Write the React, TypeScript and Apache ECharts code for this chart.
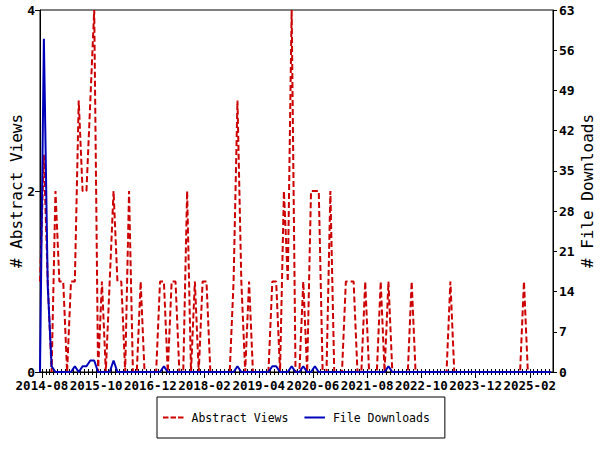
import React, { useEffect, useRef } from "react";
import * as echarts from "echarts";

// First data month is 2014-07; x coordinate = months after 2014-08-01, points sit mid-month.
const BASE_YEAR = 2014;
const BASE_MONTH0 = 7; // August (0-based) = coordinate 0

const abstractViews = [
  1, 2.4, 1, 0, 2, 1, 1, 0, 1, 1, 3, 2, 2, 3, 4, 0, 1, 0, 1, 2,
  1, 1, 0, 2, 0, 0, 1, 0, 0, 0, 0, 1, 1, 0, 1, 1, 0, 0, 2, 0,
  1, 0, 1, 1, 0, 0, 0, 0, 0, 0, 1, 3, 1, 0, 1, 0, 0, 0, 0, 0,
  1, 1, 0, 2, 1, 4, 0, 0, 1, 0, 2, 2, 2, 0, 0, 2, 0, 0, 0, 1,
  1, 1, 0, 0, 1, 0, 0, 0, 1, 0, 1, 0, 0, 0, 0, 0, 1, 0, 0, 0,
  0, 0, 0, 0, 0, 0, 1, 0, 0, 0, 0, 0, 0, 0, 0, 0, 0, 0, 0, 0,
  0, 0, 0, 0, 0, 1, 0, 0, 0, 0, 0, 0, 0,
];

const fileDownloads = [
  0, 58, 15, 1, 0, 0, 0, 0, 0, 1, 0, 1, 1, 2, 2, 0, 0, 0, 0, 2,
  0, 0, 0, 0, 0, 0, 0, 0, 0, 0, 0, 0, 1, 0, 0, 0, 0, 0, 0, 0,
  0, 0, 0, 0, 0, 0, 0, 0, 0, 0, 0, 1, 0, 0, 0, 0, 0, 0, 0, 0,
  1, 1, 0, 0, 0, 1, 0, 0, 1, 0, 0, 1, 0, 0, 0, 0, 0, 0, 0, 0,
  0, 0, 0, 0, 0, 0, 0, 0, 0, 0, 1, 0, 0, 0, 0, 0, 0, 0, 0, 0,
  0, 0, 0, 0, 0, 0, 0, 0, 0, 0, 0, 0, 0, 0, 0, 0, 0, 0, 0, 0,
  0, 0, 0, 0, 0, 0, 0, 0, 0, 0, 0, 0, 0,
];

const majorTickMonths = [0, 14, 28, 42, 56, 70, 84, 98, 112, 126];
const minorTickMonths = Array.from({ length: 133 }, (_, i) => i - 1).filter((v) => v >= 0);
const X_MIN = -0.5;
const X_MAX = 132;

const FONT = "'DejaVu Sans Mono', 'Liberation Mono', monospace";
const RED = "#cc0000";
const BLUE = "#0000bb";

const RED_ICON = "path://M0,0h5.5v2h-5.5z M7.5,0h5.5v2h-5.5z M15,0h5.5v2h-5.5z";
const BLUE_ICON = "path://M0,0h20.5v2h-20.5z";

function monthLabel(v: number): string {
  const total = BASE_YEAR * 12 + BASE_MONTH0 + Math.round(v);
  const y = Math.floor(total / 12);
  const m = (total % 12) + 1;
  return `${y}-${m < 10 ? "0" + m : m}`;
}

export default function App() {
  const ref = useRef<HTMLDivElement>(null);
  useEffect(() => {
    if (!ref.current) return;
    const chart = echarts.init(ref.current, undefined, { renderer: "svg" });
    const baseX = {
      type: "value" as const,
      min: X_MIN,
      max: X_MAX,
      position: "bottom" as const,
      splitLine: { show: false },
    };
    chart.setOption({
      animation: false,
      backgroundColor: "#ffffff",
      textStyle: { fontFamily: FONT },
      grid: {
        left: 40,
        right: 47,
        top: 10,
        bottom: 78,
        show: true,
        borderColor: "#000",
        borderWidth: 1,
        backgroundColor: "transparent",
        containLabel: false,
        outerBoundsMode: "none",
      },
      legend: {
        left: 157,
        top: 397,
        orient: "horizontal",
        itemWidth: 20.5,
        itemHeight: 2,
        itemGap: 16,
        padding: [13, 15, 13, 6],
        borderColor: "#000",
        borderWidth: 1,
        borderRadius: 0,
        textStyle: {
          fontFamily: FONT,
          fontSize: 11.5,
          color: "#000",
          padding: [0, 0, 0, 3],
          lineHeight: 15,
        },
        data: [
          { name: "Abstract Views", icon: RED_ICON, itemStyle: { color: RED } },
          { name: "File Downloads", icon: BLUE_ICON, itemStyle: { color: BLUE } },
        ],
      },
      xAxis: [
        {
          ...baseX,
          axisLine: { show: true, onZero: false, lineStyle: { color: "#000", width: 1 } },
          axisTick: {
            show: true,
            customValues: majorTickMonths,
            length: 6,
            lineStyle: { color: "#000" },
          },
          axisLabel: {
            customValues: majorTickMonths,
            formatter: (v: number) => monthLabel(v),
            fontFamily: FONT,
            fontWeight: "bold",
            fontSize: 12.5,
            color: "#000",
            margin: 7,
            hideOverlap: false,
            showMinLabel: true,
            showMaxLabel: true,
          },
        },
        {
          ...baseX,
          axisLine: { show: false, onZero: false },
          axisTick: {
            show: true,
            customValues: minorTickMonths,
            length: 3,
            lineStyle: { color: "#000" },
          },
          axisLabel: { show: false },
        },
        {
          ...baseX,
          axisLine: { show: false, onZero: false },
          axisTick: {
            show: true,
            inside: true,
            customValues: minorTickMonths,
            length: 3,
            lineStyle: { color: "#000" },
          },
          axisLabel: { show: false },
        },
      ],
      yAxis: [
        {
          type: "value",
          min: 0,
          max: 4,
          interval: 2,
          position: "left",
          name: "# Abstract Views",
          nameLocation: "middle",
          nameGap: 16,
          nameMoveOverlap: false,
          nameTextStyle: { fontFamily: FONT, fontSize: 16, color: "#000" },
          axisLine: { show: true, onZero: false, lineStyle: { color: "#000" } },
          axisTick: { show: true, length: 5, lineStyle: { color: "#000" } },
          axisLabel: {
            fontFamily: FONT,
            fontWeight: "bold",
            fontSize: 13,
            color: "#000",
            margin: 5,
          },
          splitLine: { show: false },
        },
        {
          type: "value",
          min: 0,
          max: 63,
          interval: 7,
          position: "right",
          name: "# File Downloads",
          nameLocation: "middle",
          nameGap: 26,
          nameMoveOverlap: false,
          nameTextStyle: { fontFamily: FONT, fontSize: 16, color: "#000" },
          axisLine: { show: true, onZero: false, lineStyle: { color: "#000" } },
          axisTick: { show: true, length: 4, lineStyle: { color: "#000" } },
          axisLabel: {
            fontFamily: FONT,
            fontWeight: "bold",
            fontSize: 13,
            color: "#000",
            margin: 6,
          },
          splitLine: { show: false },
        },
      ],
      series: [
        {
          type: "line",
          name: "Abstract Views",
          xAxisIndex: 0,
          yAxisIndex: 0,
          data: abstractViews.map((v, k) => [k - 0.5, v]),
          symbol: "none",
          showSymbol: false,
          lineStyle: { color: RED, width: 2, type: [6, 3] },
          itemStyle: { color: RED },
        },
        {
          type: "line",
          name: "File Downloads",
          xAxisIndex: 0,
          yAxisIndex: 1,
          data: fileDownloads.map((v, k) => [k - 0.5, v]),
          symbol: "none",
          showSymbol: false,
          lineStyle: { color: BLUE, width: 2 },
          itemStyle: { color: BLUE },
        },
      ],
    });
    return () => chart.dispose();
  }, []);
  return (
    <div
      ref={ref}
      style={{ position: "fixed", left: 0, top: 0, width: 600, height: 450, background: "#fff" }}
    />
  );
}
